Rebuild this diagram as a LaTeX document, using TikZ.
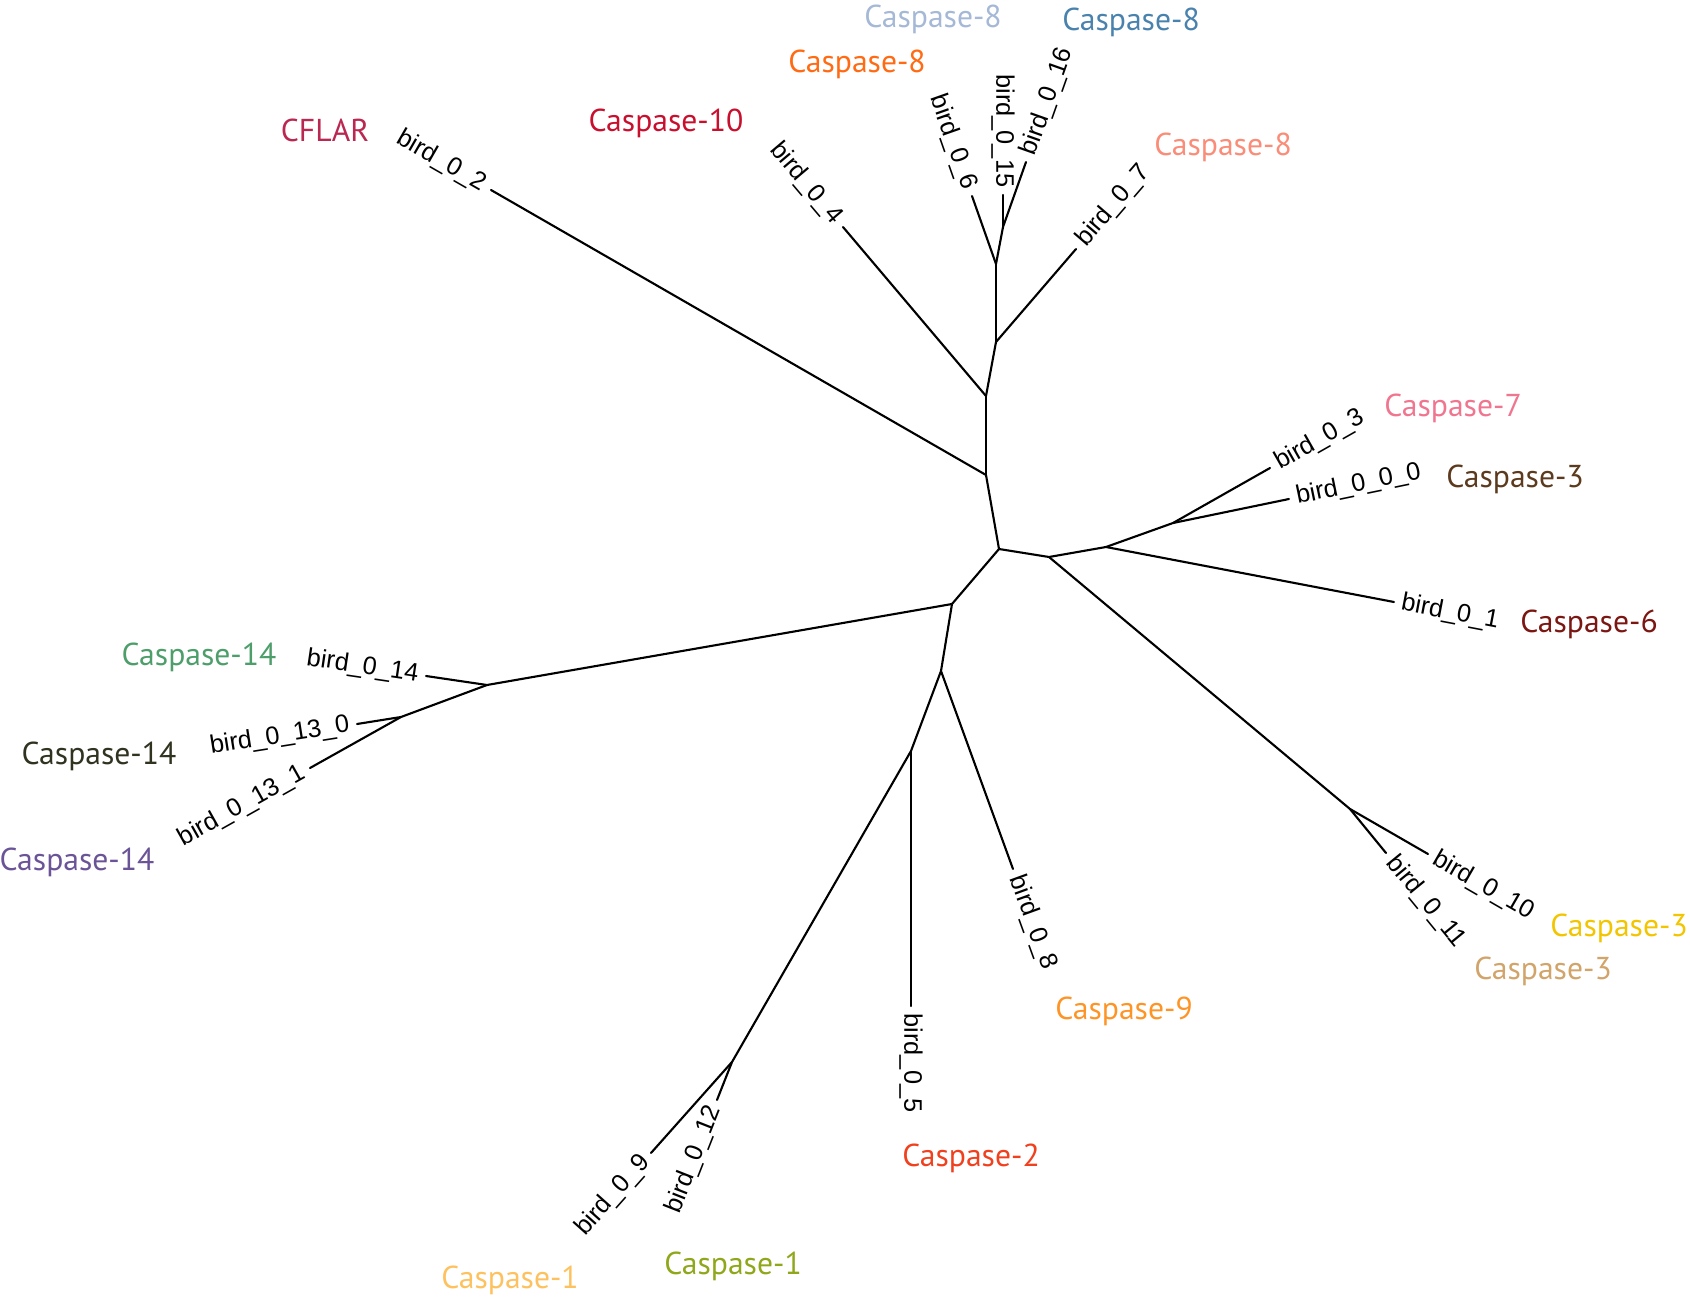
\documentclass[tikz,border=0pt]{standalone}
\usepackage{fontspec}
\setmainfont{Liberation Sans}
\newfontfamily\famfont{PT Sans}
\usetikzlibrary{positioning}

\definecolor{cflar}{RGB}{186,39,80}
\definecolor{casten}{RGB}{200,16,46}
\definecolor{caseightA}{RGB}{255,106,19}
\definecolor{caseightB}{RGB}{165,184,214}
\definecolor{caseightC}{RGB}{74,130,174}
\definecolor{caseightD}{RGB}{250,140,120}
\definecolor{casseven}{RGB}{240,118,144}
\definecolor{casthreeA}{RGB}{92,58,30}
\definecolor{cassix}{RGB}{122,23,18}
\definecolor{casthreeB}{RGB}{242,197,0}
\definecolor{casthreeC}{RGB}{209,164,106}
\definecolor{casnine}{RGB}{255,148,38}
\definecolor{castwo}{RGB}{240,64,30}
\definecolor{casoneA}{RGB}{143,167,26}
\definecolor{casoneB}{RGB}{253,194,95}
\definecolor{casfourteenA}{RGB}{106,84,151}
\definecolor{casfourteenB}{RGB}{47,51,32}
\definecolor{casfourteenC}{RGB}{77,158,106}

\begin{document}
\begin{tikzpicture}[
        x=0.01cm, y=-0.01cm,
        line/.style={draw, line width=0.6pt, line cap=round},
        leaf/.style={font=\fontsize{7.2}{8}\selectfont, inner sep=2pt},
        family/.style={font=\famfont\fontsize{9}{10}\selectfont, inner sep=0pt}
    ]
    \useasboundingbox (0,0) rectangle (1690,1297);

    % inner nodes
    \coordinate (root) at (999,549);
    \coordinate (ra) at (1049,557);
    \coordinate (rd) at (1106,547);
    \coordinate (rdd) at (1173,523);
    \coordinate (rk) at (1350,809);
    \coordinate (lb) at (952,604);
    \coordinate (ll) at (487,685);
    \coordinate (lm) at (401,717);
    \coordinate (bc) at (941,671);
    \coordinate (bn) at (911,751);
    \coordinate (bp) at (732,1062);
    \coordinate (te) at (986,475);
    \coordinate (tf) at (986,396);
    \coordinate (tg) at (996,342);
    \coordinate (th) at (996,264);
    \coordinate (ti) at (1003,227);

    % leaf ends
    \coordinate (b2) at (491,190);
    \coordinate (b4) at (843,227);
    \coordinate (b6) at (972,196);
    \coordinate (b15) at (1003,195);
    \coordinate (b16) at (1026,162);
    \coordinate (b7) at (1076,249);
    \coordinate (b3) at (1270,468);
    \coordinate (b000) at (1289,499);
    \coordinate (b1) at (1394,602);
    \coordinate (b10) at (1428,854);
    \coordinate (b11) at (1386,853);
    \coordinate (b8) at (1013,869);
    \coordinate (b5) at (911,1006);
    \coordinate (b12) at (717,1100);
    \coordinate (b9) at (651,1153);
    \coordinate (b131) at (310,768);
    \coordinate (b130) at (357,724);
    \coordinate (b14) at (426,676);

    % branches
    \path [line] (root) -- (ra);
    \path [line] (ra) -- (rd);
    \path [line] (rd) -- (rdd);
    \path [line] (rdd) -- (b3);
    \path [line] (rdd) -- (b000);
    \path [line] (rd) -- (b1);
    \path [line] (ra) -- (rk);
    \path [line] (rk) -- (b10);
    \path [line] (rk) -- (b11);
    \path [line] (root) -- (lb);
    \path [line] (lb) -- (ll);
    \path [line] (ll) -- (b14);
    \path [line] (ll) -- (lm);
    \path [line] (lm) -- (b130);
    \path [line] (lm) -- (b131);
    \path [line] (lb) -- (bc);
    \path [line] (bc) -- (b8);
    \path [line] (bc) -- (bn);
    \path [line] (bn) -- (b5);
    \path [line] (bn) -- (bp);
    \path [line] (bp) -- (b12);
    \path [line] (bp) -- (b9);
    \path [line] (root) -- (te);
    \path [line] (te) -- (b2);
    \path [line] (te) -- (tf);
    \path [line] (tf) -- (b4);
    \path [line] (tf) -- (tg);
    \path [line] (tg) -- (b7);
    \path [line] (tg) -- (th);
    \path [line] (th) -- (b6);
    \path [line] (th) -- (ti);
    \path [line] (ti) -- (b15);
    \path [line] (ti) -- (b16);

    % leaf labels
    \node [leaf, anchor=east, rotate=-29.9] (lb2) at (b2) {bird\_0\_2};
    \node [leaf, anchor=east, rotate=-49.8] (lb4) at (b4) {bird\_0\_4};
    \node [leaf, anchor=east, rotate=-70.6] (lb6) at (b6) {bird\_0\_6};
    \node [leaf, anchor=east, rotate=-90] (lb15) at (b15) {bird\_0\_15};
    \node [leaf, anchor=west, rotate=70.5] (lb16) at (b16) {bird\_0\_16};
    \node [leaf, anchor=west, rotate=49.3] (lb7) at (b7) {bird\_0\_7};
    \node [leaf, anchor=west, rotate=29.6] (lb3) at (b3) {bird\_0\_3};
    \node [leaf, anchor=west, rotate=11.7] (lb000) at (b000) {bird\_0\_0\_0};
    \node [leaf, anchor=west, rotate=-10.8] (lb1) at (b1) {bird\_0\_1};
    \node [leaf, anchor=west, rotate=-30] (lb10) at (b10) {bird\_0\_10};
    \node [leaf, anchor=west, rotate=-50.7] (lb11) at (b11) {bird\_0\_11};
    \node [leaf, anchor=west, rotate=-70] (lb8) at (b8) {bird\_0\_8};
    \node [leaf, anchor=west, rotate=-90] (lb5) at (b5) {bird\_0\_5};
    \node [leaf, anchor=east, rotate=68.5] (lb12) at (b12) {bird\_0\_12};
    \node [leaf, anchor=east, rotate=48.3] (lb9) at (b9) {bird\_0\_9};
    \node [leaf, anchor=east, rotate=29.3] (lb131) at (b131) {bird\_0\_13\_1};
    \node [leaf, anchor=east, rotate=9] (lb130) at (b130) {bird\_0\_13\_0};
    \node [leaf, anchor=east, rotate=-8.4] (lb14) at (b14) {bird\_0\_14};

    % families
    \node [family, text=cflar] (fcflar) at (325,130) {CFLAR};
    \node [family, text=casten] (ften) at (666,123) {Caspase-10};
    \node [family, text=caseightA] (feighta) at (857,64) {Caspase-8};
    \node [family, text=caseightB] (feightb) at (933,19) {Caspase-8};
    \node [family, text=caseightC] (feightc) at (1131,22) {Caspase-8};
    \node [family, text=caseightD] (feightd) at (1223,147) {Caspase-8};
    \node [family, text=casseven] (fseven) at (1453,408) {Caspase-7};
    \node [family, text=casthreeA] (fthreea) at (1515,479) {Caspase-3};
    \node [family, text=cassix] (fsix) at (1589,624) {Caspase-6};
    \node [family, text=casthreeB] (fthreeb) at (1619,928) {Caspase-3};
    \node [family, text=casthreeC] (fthreec) at (1543,971) {Caspase-3};
    \node [family, text=casnine] (fnine) at (1124,1011) {Caspase-9};
    \node [family, text=castwo] (ftwo) at (971,1158) {Caspase-2};
    \node [family, text=casoneA] (fonea) at (733,1266) {Caspase-1};
    \node [family, text=casoneB] (foneb) at (510,1280) {Caspase-1};
    \node [family, text=casfourteenA] (ffourteena) at (77,862) {Caspase-14};
    \node [family, text=casfourteenB] (ffourteenb) at (99,756) {Caspase-14};
    \node [family, text=casfourteenC] (ffourteenc) at (199,657) {Caspase-14};
\end{tikzpicture}
\end{document}
